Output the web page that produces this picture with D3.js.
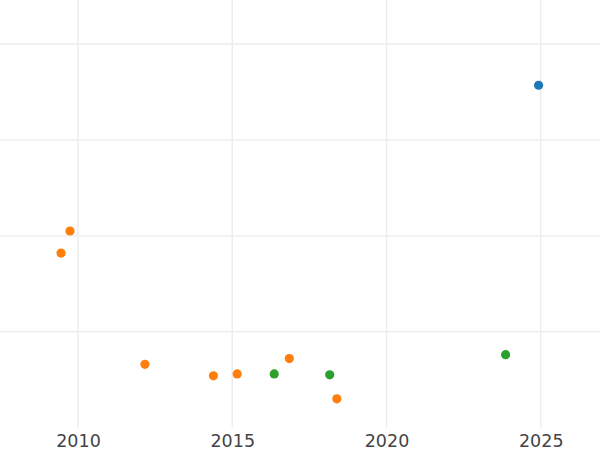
<!DOCTYPE html>
<html>
<head>
<meta charset="utf-8">
<script src="https://cdn.jsdelivr.net/npm/d3@7"></script>
<style>
  html, body { margin: 0; padding: 0; background: #fff; }
  svg { display: block; }
</style>
</head>
<body>
<svg id="chart" width="600" height="450"></svg>
<script>
// Data
const seriesNames = ["blue", "orange", "green"];
const seriesColors = ["#1f77b4", "#ff7f0e", "#2ca02c"];
const blueX = [2024.93];
const blueY = [35.7];
const orangeX = [2009.74, 2009.45, 2012.17, 2014.39, 2015.16, 2016.85, 2018.39];
const orangeY = [20.5, 18.2, 6.6, 5.4, 5.6, 7.2, 3.0];
const greenX = [2016.36, 2018.16, 2023.86];
const greenY = [5.6, 5.5, 7.6];
const xTicks = [2010, 2015, 2020, 2025];
const yTicks = [10, 20, 30, 40];

const series = [
  { name: seriesNames[0], color: seriesColors[0], xs: blueX, ys: blueY },
  { name: seriesNames[1], color: seriesColors[1], xs: orangeX, ys: orangeY },
  { name: seriesNames[2], color: seriesColors[2], xs: greenX, ys: greenY }
];

const W = 600, H = 450;
const plot = { left: 0, right: 600, top: 0, bottom: 427.6 };

const x = d3.scaleLinear()
  .domain([2010 - 78 / 30.85, 2010 + 522 / 30.85])
  .range([plot.left, plot.right]);
const y = d3.scaleLinear()
  .domain([0, 427.6 / 95.9 * 10])
  .range([plot.bottom, plot.top]);

const svg = d3.select("#chart");

// gridlines
const grid = svg.append("g");
grid.selectAll("line.h").data(yTicks).join("line")
  .attr("class", "h")
  .attr("x1", plot.left).attr("x2", plot.right)
  .attr("y1", d => y(d)).attr("y2", d => y(d))
  .attr("stroke", "#ebebeb").attr("stroke-width", 1.3);
grid.selectAll("line.v").data(xTicks).join("line")
  .attr("class", "v")
  .attr("y1", plot.top).attr("y2", plot.bottom)
  .attr("x1", d => x(d)).attr("x2", d => x(d))
  .attr("stroke", "#ebebeb").attr("stroke-width", 1.3);

// x axis labels via d3 axis
const xAxis = d3.axisBottom(x).tickValues(xTicks).tickFormat(d3.format("d")).tickSize(0).tickPadding(0);
const ax = svg.append("g")
  .attr("transform", `translate(0, ${plot.bottom})`)
  .call(xAxis);
ax.select(".domain").remove();
ax.selectAll("text")
  .attr("dy", null)
  .attr("y", 19.5)
  .attr("font-family", "DejaVu Sans, sans-serif")
  .attr("font-size", 17.5)
  .attr("fill", "#444");

// points
const pts = svg.append("g");
series.forEach(s => {
  const data = s.xs.map((v, i) => [v, s.ys[i]]);
  pts.append("g").selectAll("circle").data(data).join("circle")
    .attr("cx", d => x(d[0]))
    .attr("cy", d => y(d[1]))
    .attr("r", 4.6)
    .attr("fill", s.color);
});
</script>
</body>
</html>
